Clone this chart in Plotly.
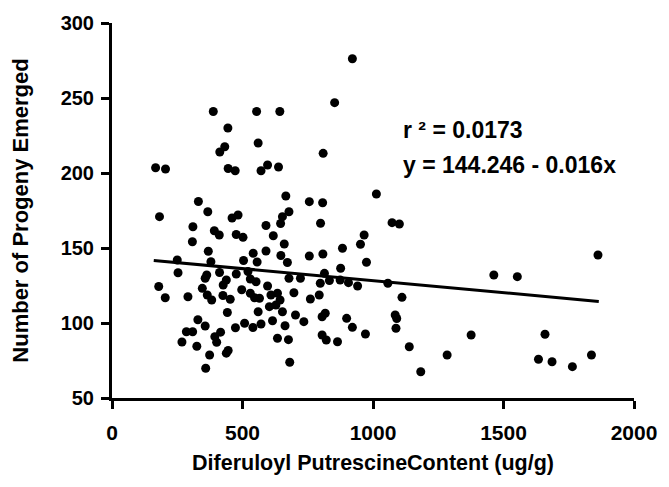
import plotly.graph_objects as go

# Diferuloyl putrescine content (ug/g) and number of progeny emerged
content = [388, 554, 643, 444, 413, 432, 560, 167, 205, 445, 472, 571, 596, 638, 666, 331,
           182, 367, 460, 483, 653, 678, 310, 392, 411, 476, 502, 590, 646, 618, 308, 660,
           369, 541, 590, 647, 672, 250, 379, 504, 556, 253, 357, 363, 412, 438, 426, 476,
           521, 530, 552, 678, 179, 204, 291, 346, 365, 382, 425, 453, 442, 497, 530, 546,
           565, 596, 609, 634, 644, 697, 603, 628, 560, 653, 703, 329, 357, 285, 309, 473,
           508, 540, 571, 615, 663, 268, 325, 394, 416, 401, 445, 438, 374, 634, 676, 359,
           681,
           921, 853, 809, 1013, 756, 807, 799, 1073, 1101, 966, 952, 883, 756, 808, 975, 876,
           722, 814, 798, 833, 874, 906, 941, 1057, 794, 760, 1111, 735, 805, 817, 899, 921,
           1085, 1091, 1088, 805, 821, 864, 971, 1139, 1376, 1284, 1183, 1463, 1553, 1862,
           1659, 1634, 1686, 1764, 1837]
progeny = [241, 241, 241, 230, 214, 217.5, 220, 203.5, 202.7, 203, 201.5, 201.5, 205.3, 204, 184.7, 181,
           170.9, 174.2, 170, 172, 170.9, 174.2, 164.2, 161.5, 158.7, 159, 157.1, 165, 166.3, 158.2, 154.2, 152.7,
           147.8, 146.5, 148, 145, 140.3, 142, 140.9, 141.7, 140.7, 133.5, 129.8, 132, 133.7, 128.7, 125.3, 132.7,
           134.3, 129.3, 127.5, 129.8, 124.3, 116.8, 117.5, 123.1, 118.7, 115.3, 118.3, 115.8, 107, 122.2, 119.8, 116.8,
           116.5, 124.7, 118.7, 119.8, 115.3, 120.2, 110.9, 112, 107.5, 107.5, 105.3, 102.2, 98, 94.2, 94.2, 96.8,
           99.8, 97, 99.3, 101.5, 98.2, 87.3, 84.5, 90.9, 93.9, 87.2, 81.7, 79.9, 78.7, 89.8, 88.9, 69.8,
           73.8,
           276.2, 246.9, 213.1, 186, 180.9, 180.2, 166.5, 166.9, 166, 158.7, 152.5, 149.8, 144.7, 146, 140.5, 136.5,
           129.8, 133.1, 126.5, 128.3, 128.7, 126.9, 124.7, 126.5, 118.7, 116, 117.1, 100.9, 104.2, 106.5, 103.1, 97.1,
           105.3, 103, 96.5, 92, 88.7, 87.5, 92.7, 84.2, 92, 78.7, 67.5, 132, 130.9, 145.3,
           92.5, 75.8, 74.2, 70.9, 78.7]

# Regression reported on the chart
intercept = 144.246
slope = -0.016
r_squared = "0.0173"
fit_x = [160, 1865]
fit_y = [intercept + slope * v for v in fit_x]

x_ticks = [0, 500, 1000, 1500, 2000]
y_ticks = [50, 100, 150, 200, 250, 300]

FONT = "Arial, Liberation Sans, sans-serif"

fig = go.Figure()
fig.add_trace(go.Scatter(x=content, y=progeny, mode="markers",
                         marker=dict(color="black", size=9, line=dict(width=0)),
                         showlegend=False, cliponaxis=False))
fig.add_trace(go.Scatter(x=fit_x, y=fit_y, mode="lines",
                         line=dict(color="black", width=3), showlegend=False))

fig.add_annotation(x=1107, y=228.7, xref="x", yref="y", xanchor="left", yanchor="middle",
                   text="<b>r \u00b2 = " + r_squared + "</b>", showarrow=False,
                   font=dict(family=FONT, size=23, color="black"))
fig.add_annotation(x=1107, y=205.3, xref="x", yref="y", xanchor="left", yanchor="middle",
                   text="<b>y = %.3f - %.3fx</b>" % (intercept, -slope), showarrow=False,
                   font=dict(family=FONT, size=23, color="black"))

fig.update_layout(
    width=669, height=487,
    margin=dict(l=112, r=28, t=23, b=89),
    paper_bgcolor="white", plot_bgcolor="white",
    font=dict(family=FONT, color="black"),
    xaxis=dict(range=[0, 2000], tickvals=x_ticks, ticktext=["<b>%d</b>" % v for v in x_ticks],
               showline=True, linecolor="black", linewidth=3, ticks="outside", ticklen=8,
               tickwidth=3, tickcolor="black", showgrid=False, zeroline=False,
               tickfont=dict(family=FONT, size=21), ticklabelstandoff=6,
               title=dict(text="<b>Diferuloyl PutrescineContent (ug/g)</b>",
                          font=dict(family=FONT, size=21.5), standoff=12)),
    yaxis=dict(range=[50, 300], tickvals=y_ticks, ticktext=["<b>%d</b>" % v for v in y_ticks],
               showline=True, linecolor="black", linewidth=3, ticks="outside", ticklen=8,
               tickwidth=3, tickcolor="black", showgrid=False, zeroline=False,
               tickfont=dict(family=FONT, size=20), ticklabelstandoff=3,
               title=dict(text="<b>Number of Progeny Emerged</b>",
                          font=dict(family=FONT, size=22), standoff=26)),
)

fig.write_html("out.html")
